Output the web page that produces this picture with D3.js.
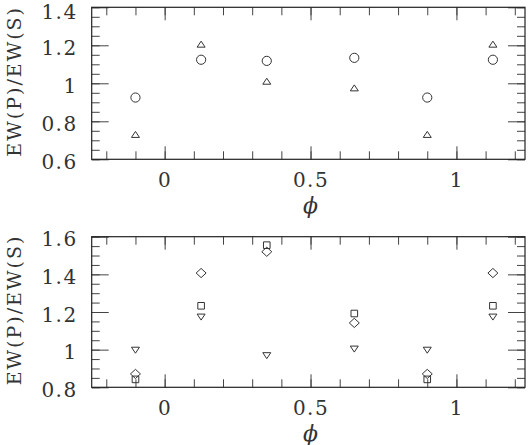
<!DOCTYPE html>
<html>
<head>
<meta charset="utf-8">
<script src="https://cdn.jsdelivr.net/npm/d3@7"></script>
<style>
  body { margin: 0; background: #fff; }
  svg { display: block; }
  .tick text { font-family: "DejaVu Serif", serif; font-size: 20px; letter-spacing: 1.5px; fill: #333; }
  .tick line { stroke: #444; stroke-width: 1; }
  .ytitle { font-family: "DejaVu Serif", serif; font-size: 19px; letter-spacing: 2px; fill: #333; }
  .xtitle { font-family: "DejaVu Serif", serif; font-style: italic; font-size: 22px; fill: #333; }
  .mark { fill: none; stroke: #333; stroke-width: 1; }
</style>
</head>
<body>
<svg width="531" height="445"></svg>
<script>
var svg = d3.select("svg");

// orbital phase of each point (first and last two are the same phases repeated)
const phase = [-0.1, 0.125, 0.35, 0.65, 0.9, 1.125];

// top panel
const circleVals = [0.925, 1.124, 1.118, 1.134, 0.925, 1.124];
const triUpVals = [0.731, 1.206, 1.011, 0.976, 0.731, 1.206];

// bottom panel
const diamondVals = [0.871, 1.407, 1.520, 1.142, 0.871, 1.407];
const squareVals = [0.842, 1.233, 1.555, 1.192, 0.842, 1.233];
const triDownVals = [0.997, 1.173, 0.968, 1.003, 0.997, 1.173];

const xMajor = [0, 0.5, 1];
const xMinor = d3.range(-2, 13).map(function(i) { return i / 10; });
const yTitle = "EW(P)/EW(S)";
const xTitle = "\u03D5";

// marker shapes, in pixels about the point
var shapes = {
  circle: d3.symbol().type(d3.symbolCircle).size(Math.PI * 4.6 * 4.6)(),
  triUp: "M-4,3L4,3L0,-3Z",
  triDown: "M-4,-3L4,-3L0,3Z",
  square: "M-3.3,-3.3H3.3V3.3H-3.3Z",
  diamond: "M0,-4.6L5,0L0,4.6L-5,0Z"
};

var x = d3.scaleLinear()
  .domain([-0.25, 1.235])
  .range([91.7, 525]);

function panel(top, bottom, yDomain, yMajor, series) {
  var y = d3.scaleLinear().domain(yDomain).range([bottom, top]);
  var yMinor = d3.range(Math.round(yDomain[0] * 20), Math.round(yDomain[1] * 20) + 1)
    .map(function(i) { return i / 20; });

  var g = svg.append("g");

  // minor + major ticks on all four sides, pointing inward
  g.append("g").attr("transform", "translate(0," + bottom + ")")
    .call(d3.axisBottom(x).tickValues(xMinor).tickSize(-8).tickFormat(""));
  g.append("g").attr("transform", "translate(0," + bottom + ")")
    .call(d3.axisBottom(x).tickValues(xMajor).tickSize(-13).tickPadding(14)
      .tickFormat(function(d) { return d3.format("")(d); }));
  g.append("g").attr("transform", "translate(0," + top + ")")
    .call(d3.axisTop(x).tickValues(xMinor).tickSize(-8).tickFormat(""));
  g.append("g").attr("transform", "translate(0," + top + ")")
    .call(d3.axisTop(x).tickValues(xMajor).tickSize(-13).tickFormat(""));

  g.append("g").attr("transform", "translate(" + x.range()[0] + ",0)")
    .call(d3.axisLeft(y).tickValues(yMinor).tickSize(-8).tickFormat(""));
  g.append("g").attr("transform", "translate(" + x.range()[0] + ",0)")
    .call(d3.axisLeft(y).tickValues(yMajor).tickSize(-17).tickPadding(14)
      .tickFormat(function(d) { return d3.format("")(+d.toFixed(2)); }))
    .selectAll("text")
    .attr("dy", function(d) { return y(d) < 20 ? "0.56em" : "0.45em"; });
  g.append("g").attr("transform", "translate(" + x.range()[1] + ",0)")
    .call(d3.axisRight(y).tickValues(yMinor).tickSize(-8).tickFormat(""));
  g.append("g").attr("transform", "translate(" + x.range()[1] + ",0)")
    .call(d3.axisRight(y).tickValues(yMajor).tickSize(-17).tickFormat(""));

  g.selectAll(".domain").remove();

  g.append("rect")
    .attr("x", x.range()[0])
    .attr("y", top)
    .attr("width", x.range()[1] - x.range()[0])
    .attr("height", bottom - top)
    .attr("fill", "none")
    .attr("stroke", "#222")
    .attr("stroke-width", 1.2);

  series.forEach(function(s) {
    g.append("g").selectAll("path")
      .data(s.values)
      .enter().append("path")
      .attr("class", "mark")
      .attr("d", shapes[s.shape])
      .attr("transform", function(d, i) {
        return "translate(" + x(phase[i]) + "," + y(d) + ")";
      });
  });

  g.append("text")
    .attr("class", "ytitle")
    .attr("text-anchor", "middle")
    .attr("transform", "translate(21," + ((top + bottom) / 2 - 2) + ") rotate(-90)")
    .text(yTitle);

  g.append("text")
    .attr("class", "xtitle")
    .attr("text-anchor", "middle")
    .attr("x", x(0.5))
    .attr("y", bottom + 54)
    .text(xTitle);
}

panel(7.3, 159.3, [0.6, 1.4], [0.6, 0.8, 1, 1.2, 1.4], [
  { shape: "circle", values: circleVals },
  { shape: "triUp", values: triUpVals }
]);

panel(236.7, 387.3, [0.8, 1.6], [0.8, 1, 1.2, 1.4, 1.6], [
  { shape: "diamond", values: diamondVals },
  { shape: "square", values: squareVals },
  { shape: "triDown", values: triDownVals }
]);
</script>
</body>
</html>
